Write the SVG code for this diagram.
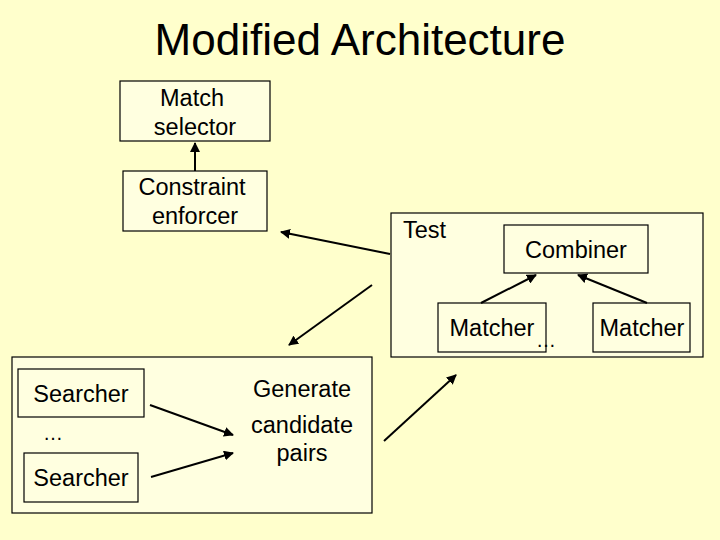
<svg xmlns="http://www.w3.org/2000/svg" width="720" height="540" viewBox="0 0 720 540">
<defs>
<marker id="ah" viewBox="0 0 10 10" refX="9" refY="5" markerWidth="5" markerHeight="5" orient="auto" markerUnits="strokeWidth">
<path d="M0,0 L10,5 L0,10 z" fill="#000"/>
</marker>
<style>
.box{fill:#FFFFE0;stroke:#000;stroke-width:1.2}
.t{font-family:"Liberation Sans",Arial,sans-serif;font-size:23.5px;fill:#000}
.c{text-anchor:middle}
.e{fill:none;stroke:#000;stroke-width:2;marker-end:url(#ah)}
</style>
</defs>
<rect width="720" height="540" fill="#FFFFCC"/>
<text x="360" y="55" class="t c" style="font-size:44px">Modified Architecture</text>
<g id="match-selector">
<rect class="box" x="120" y="81" width="150" height="60"/>
<text class="t c" x="192" y="106">Match</text>
<text class="t c" x="195" y="135">selector</text>
</g>
<g id="constraint-enforcer">
<rect class="box" x="123" y="171" width="144" height="60"/>
<text class="t c" x="192" y="195">Constraint</text>
<text class="t c" x="195" y="224">enforcer</text>
</g>
<g id="test">
<rect class="box" x="391" y="213" width="312" height="144"/>
<text class="t" x="403" y="238">Test</text>
</g>
<g id="combiner">
<rect class="box" x="504" y="225" width="144" height="48"/>
<text class="t c" x="576" y="258">Combiner</text>
</g>
<g id="matcher1">
<rect class="box" x="438" y="303" width="108" height="49"/>
<text class="t c" x="492" y="336">Matcher</text>
</g>
<text class="t" x="536" y="347" style="font-size:20px">…</text>
<g id="matcher2">
<rect class="box" x="593" y="303" width="97" height="49"/>
<text class="t c" x="642" y="336">Matcher</text>
</g>
<g id="generate">
<rect class="box" x="12" y="357" width="360" height="156"/>
<text class="t c" x="302" y="397">Generate</text>
<text class="t c" x="302" y="433">candidate</text>
<text class="t c" x="302" y="461">pairs</text>
</g>
<g id="searcher1">
<rect class="box" x="18" y="369" width="126" height="48"/>
<text class="t c" x="81" y="402">Searcher</text>
</g>
<text class="t" x="43" y="440" style="font-size:20px">…</text>
<g id="searcher2">
<rect class="box" x="24" y="453" width="114" height="49"/>
<text class="t c" x="81" y="486">Searcher</text>
</g>
<g id="connectors">
<line class="e" x1="195" y1="171" x2="195" y2="143"/>
<line class="e" x1="481" y1="303" x2="536" y2="275"/>
<line class="e" x1="647" y1="303" x2="578" y2="275"/>
<line class="e" x1="390" y1="254" x2="281" y2="232"/>
<line class="e" x1="372" y1="285" x2="289" y2="345"/>
<line class="e" x1="150" y1="405" x2="233" y2="435"/>
<line class="e" x1="151" y1="477" x2="233" y2="453"/>
<line class="e" x1="384" y1="441" x2="456" y2="375"/>
</g>
</svg>
